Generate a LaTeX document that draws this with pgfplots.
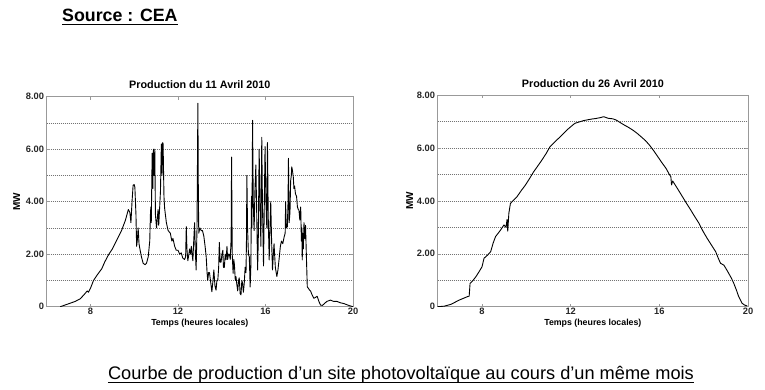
\documentclass[border=0pt]{standalone}
\usepackage{pgfplots}
\pgfplotsset{compat=1.18}
\usepackage{fontspec}
\setmainfont{Liberation Sans}
\definecolor{axgray}{gray}{0.6}
\definecolor{gridgray}{gray}{0.45}
\pgfplotsset{prodaxis/.style={
  scale only axis, xmin=6, xmax=20, ymin=0, ymax=8,
  xtick={8,12,16,20}, xticklabels={8,12,16,20},
  ytick={0,2,4,6,8}, yticklabels={0,2.00,4.00,6.00,8.00},
  minor ytick={1,3,5,7},
  ymajorgrids, yminorgrids,
  major grid style={dash pattern=on 0.9pt off 1.1pt, gridgray, line width=0.45pt},
  minor grid style={dash pattern=on 0.9pt off 1.1pt, gridgray, line width=0.45pt},
  axis line style={axgray, line width=0.6pt},
  tick style={axgray, line width=0.5pt},
  major tick length=3pt, minor tick length=0pt,
  tick align=inside,
  ticklabel style={font=\bfseries\fontsize{9.3}{9.3}\selectfont, text=black!85},
  xticklabel style={inner sep=1.5pt},
  yticklabel style={inner sep=2.5pt},
  title style={font=\bfseries\fontsize{10.8}{12}\selectfont, at={(axis description cs:0.5,1)}, anchor=base, yshift=1.8pt},
  xlabel style={font=\bfseries\fontsize{8.8}{10}\selectfont, at={(axis description cs:0.5,0)}, anchor=center, yshift=-16.8pt},
  ylabel style={font=\bfseries\fontsize{10}{11}\selectfont, anchor=center},
  xlabel={Temps (heures locales)}, ylabel={MW},
}}
\begin{document}
\begin{tikzpicture}
\path[use as bounding box] (0,0) rectangle (765pt,390pt);
\node[anchor=base west, inner sep=0, font=\bfseries\fontsize{17.8}{20}\selectfont] (src) at (62pt,368.3pt) {Source : CEA};
\draw[line width=1.2pt] ([yshift=-2.6pt]src.base west) -- ([yshift=-2.6pt]src.base east);
\node[anchor=base, inner sep=0, font=\fontsize{18.2}{20}\selectfont] (cap) at (401pt,10.7pt) {Courbe de production d’un site photovoltaïque au cours d’un même mois};
\draw[line width=0.9pt] ([yshift=-3pt]cap.base west) -- ([yshift=-3pt]cap.base east);

\begin{axis}[prodaxis, at={(46.7pt,83.3pt)}, anchor=south west, width=306.3pt, height=210pt,
  title={Production du 11 Avril 2010},
  ylabel style={at={(axis description cs:-0.098,0.5)}}]
\addplot[black, line width=0.9pt, line join=round] coordinates {
(6.62,0) (7.03,0.12) (7.3,0.2) (7.53,0.3) (7.7,0.45) (7.85,0.6) (7.91,0.55) (8.0,0.7)
(8.14,1.0) (8.3,1.2) (8.52,1.45) (8.65,1.7) (8.82,1.97) (9.0,2.2) (9.12,2.4) (9.3,2.7)
(9.42,2.9) (9.6,3.3) (9.73,3.7) (9.8,3.6) (9.85,3.2) (9.9,4.0) (9.95,4.63) (10.0,4.65)
(10.03,4.55) (10.08,3.5) (10.11,2.3) (10.15,2.6) (10.18,3.0) (10.22,2.4) (10.26,2.2)
(10.33,1.9) (10.41,1.65) (10.5,1.6) (10.56,1.65) (10.64,1.9) (10.71,2.5) (10.74,3.5)
(10.76,3.8) (10.78,3.2) (10.82,5.85) (10.85,4.5) (10.88,6.0) (10.91,5.0) (10.94,6.0)
(10.97,3.5) (11.02,3.0) (11.05,3.3) (11.09,3.7) (11.12,3.1) (11.17,3.9) (11.2,4.4)
(11.24,6.2) (11.27,5.0) (11.3,6.25) (11.32,6.2) (11.36,4.2) (11.39,3.75) (11.47,3.2)
(11.55,2.9) (11.65,2.8) (11.72,2.5) (11.77,2.6) (11.85,2.3) (11.92,2.15) (12.0,2.15)
(12.08,2.0) (12.15,2.05) (12.22,1.85) (12.3,1.8) (12.35,1.9) (12.38,3.05) (12.41,2.2)
(12.45,1.75) (12.5,2.0) (12.53,2.2) (12.58,2.0) (12.61,2.3) (12.66,1.9) (12.68,1.75)
(12.72,2.5) (12.76,3.2) (12.79,2.2) (12.83,1.4) (12.87,3.0) (12.91,7.75) (12.93,4.5)
(12.95,2.8) (13.0,3.0) (13.06,2.9) (13.12,2.9) (13.18,2.7) (13.24,2.3) (13.29,1.9)
(13.33,1.3) (13.36,1.0) (13.4,1.3) (13.44,1.3) (13.5,0.9) (13.55,0.57) (13.6,1.0)
(13.64,1.4) (13.69,0.8) (13.74,0.63) (13.78,1.0) (13.82,1.0) (13.86,1.5) (13.89,2.45)
(13.93,1.7) (13.97,1.7) (14.01,2.0) (14.05,2.15) (14.08,1.5) (14.12,1.5) (14.16,2.0)
(14.2,1.8) (14.24,2.3) (14.27,1.8) (14.31,2.0) (14.35,2.0) (14.39,1.8) (14.43,2.6)
(14.45,5.7) (14.48,2.0) (14.52,1.27) (14.55,1.8) (14.58,1.6) (14.62,1.0) (14.65,1.15)
(14.69,0.85) (14.73,0.6) (14.77,1.0) (14.8,1.1) (14.84,0.5) (14.88,0.45) (14.92,1.0)
(14.95,0.9) (14.99,0.55) (15.03,0.9) (15.07,1.5) (15.11,1.3) (15.13,2.5) (15.15,5.0)
(15.18,3.0) (15.22,2.0) (15.26,1.9) (15.3,0.75) (15.33,1.5) (15.36,4.2) (15.38,3.0)
(15.41,7.1) (15.44,4.0) (15.48,2.9) (15.52,4.5) (15.56,5.4) (15.6,3.5) (15.64,1.4)
(15.67,2.5) (15.71,6.0) (15.75,4.0) (15.79,2.3) (15.81,4.5) (15.83,6.45) (15.86,4.0)
(15.91,1.55) (15.94,3.5) (15.98,6.1) (16.02,4.0) (16.06,3.0) (16.09,6.25) (16.13,3.2)
(16.17,1.78) (16.2,2.8) (16.24,4.0) (16.28,2.5) (16.32,1.4) (16.36,2.0) (16.39,2.4)
(16.45,1.5) (16.52,1.15) (16.57,1.4) (16.62,1.8) (16.68,2.3) (16.73,2.5) (16.79,2.4)
(16.85,2.65) (16.9,2.8) (16.92,4.0) (16.95,3.0) (17.0,3.05) (17.03,4.0) (17.05,5.65)
(17.08,3.2) (17.12,3.6) (17.15,4.8) (17.18,5.0) (17.2,5.33) (17.23,5.2) (17.27,4.95)
(17.3,4.5) (17.33,4.6) (17.37,4.3) (17.42,4.2) (17.46,3.8) (17.5,3.7) (17.53,3.68)
(17.57,3.3) (17.61,3.8) (17.64,2.5) (17.66,3.0) (17.68,1.78) (17.7,2.8) (17.73,2.2)
(17.76,3.2) (17.8,2.6) (17.83,3.1) (17.86,2.2) (17.91,0.76) (18.0,0.65) (18.06,0.6)
(18.13,0.45) (18.21,0.32) (18.28,0.35) (18.36,0.4) (18.44,0.2) (18.52,0.06) (18.6,0.05)
(18.67,0.1) (18.8,0.2) (18.97,0.25) (19.12,0.2) (19.27,0.2) (19.42,0.15) (19.58,0.12)
(19.8,0.05) (20.0,0)
};
\end{axis}

\begin{axis}[prodaxis, at={(437.7pt,83.3pt)}, anchor=south west, width=310.3pt, height=211.7pt,
  title={Production du 26 Avril 2010},
  ylabel style={at={(axis description cs:-0.09,0.5)}}]
\addplot[black, line width=0.9pt, line join=round] coordinates {
(6.0,0) (6.3,0.02) (6.6,0.09) (6.97,0.25) (7.2,0.33) (7.34,0.38) (7.42,0.4) (7.46,0.88)
(7.6,1.0) (7.72,1.13) (7.85,1.3) (8.0,1.51) (8.09,1.83) (8.25,1.95) (8.39,2.08) (8.5,2.4)
(8.61,2.65) (8.75,2.8) (8.84,2.9) (8.99,3.09) (9.08,3.0) (9.13,3.3) (9.16,2.85) (9.21,3.53)
(9.28,3.9) (9.45,4.05) (9.58,4.16) (9.78,4.4) (9.96,4.6) (10.15,4.85) (10.33,5.1) (10.5,5.3)
(10.7,5.54) (10.9,5.8) (11.07,6.05) (11.25,6.2) (11.45,6.36) (11.62,6.5) (11.82,6.67)
(12.0,6.8) (12.19,6.93) (12.38,6.98) (12.57,7.03) (12.75,7.06) (12.94,7.09) (13.12,7.11)
(13.31,7.14) (13.49,7.18) (13.69,7.12) (13.9,7.1) (14.06,7.05) (14.25,6.95) (14.43,6.86)
(14.62,6.77) (14.81,6.67) (15.0,6.55) (15.18,6.42) (15.37,6.28) (15.55,6.11) (15.74,5.9)
(15.93,5.67) (16.1,5.46) (16.3,5.23) (16.45,5.0) (16.52,4.91) (16.55,4.6) (16.6,4.75)
(16.67,4.66) (16.85,4.42) (17.04,4.16) (17.23,3.9) (17.42,3.65) (17.6,3.4) (17.79,3.15)
(17.97,2.85) (18.16,2.58) (18.35,2.33) (18.54,2.08) (18.65,1.85) (18.76,1.64) (18.91,1.57)
(19.0,1.45) (19.13,1.26) (19.25,1.08) (19.36,0.88) (19.48,0.62) (19.58,0.38) (19.73,0.13)
(19.85,0.06) (19.96,0.03)
};
\end{axis}
\end{tikzpicture}
\end{document}
